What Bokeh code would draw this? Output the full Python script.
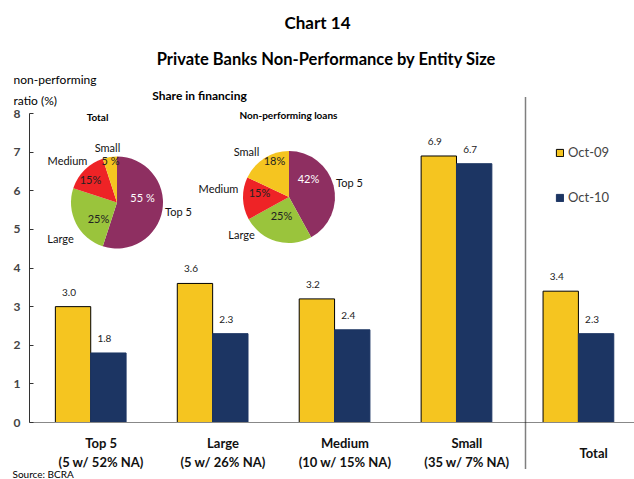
from bokeh.plotting import figure
from bokeh.models import (ColumnDataSource, Range1d, Label, Legend, LegendItem,
                          Arrow, FixedTicker)
from bokeh.core.properties import value
from bokeh.embed import file_html
from bokeh.resources import INLINE
import math

# ---------------- data ----------------
categories = ["Top 5\n(5 w/ 52% NA)", "Large\n(5 w/ 26% NA)", "Medium\n(10 w/ 15% NA)",
              "Small\n(35 w/ 7% NA)", "Total"]
oct09 = [3.0, 3.6, 3.2, 6.9, 3.4]
oct10 = [1.8, 2.3, 2.4, 6.7, 2.3]
series_names = ["Oct-09", "Oct-10"]
y_ticks = [0, 1, 2, 3, 4, 5, 6, 7, 8]

pie_segments = ["Top 5", "Large", "Medium", "Small"]
share_total = [55, 25, 15, 5]
share_npl = [42, 25, 15, 18]
pct_text_total = ["55 %", "25%", "15%", "5 %"]
pct_text_npl = ["42%", "25%", "15%", "18%"]

# ---------------- style / layout ----------------
FONT = "Lato"
YELLOW = "#F5C520"
NAVY = "#1C3563"
PIE_COLORS = ["#8E2F61", "#9AC43C", "#EE2326", "#F5C520"]
PIE_TEXT = ["white", "#222222", "#222222", "#222222"]

# label placement (pixel offsets from pie centre, layout only)
IN_OFF_TOTAL = [(25.5, -5), (-18.5, 16), (-26.5, -23), (-6.5, -42)]
OUT_OFF_TOTAL = [(61.5, 9), (-56.5, 36), (-49.5, -42), (-9.5, -55)]
IN_OFF_NPL = [(19.5, -18.5), (-7.5, 18.5), (-29.5, -4.5), (-14.5, -36.5)]
OUT_OFF_NPL = [(60.5, -14.5), (-47.5, 37.5), (-70.5, -8.5), (-42.5, -45.5)]
LABEL_SHIFT = 0.085        # category labels sit slightly right of the bar pairs

W, H = 634, 479
X0, X1 = -0.74, 4.46                # index range across the full canvas width
Y_PX0, Y_PX8 = 422.0, 113.0         # pixel rows of y=0 and y=8
ppu = (Y_PX0 - Y_PX8) / 8.0
Y0 = -(H - Y_PX0) / ppu
Y1 = Y_PX0 / ppu

p = figure(width=W, height=H, x_range=Range1d(X0, X1), y_range=Range1d(Y0, Y1),
           output_backend="svg", toolbar_location=None, min_border=0,
           min_border_left=0, min_border_right=0, min_border_top=0, min_border_bottom=0)
p.outline_line_color = None
p.grid.visible = False
p.background_fill_color = "white"
p.border_fill_color = "white"

def X(px):
    return X0 + px / W * (X1 - X0)

def Y(py):
    return (Y_PX0 - py) / ppu

idx = list(range(len(categories)))
bw = 0.29
src = ColumnDataSource(dict(x09=[i - bw / 2 for i in idx], x10=[i + bw / 2 for i in idx],
                            oct09=oct09, oct10=oct10,
                            l09=[f"{v:.1f}" for v in oct09], l10=[f"{v:.1f}" for v in oct10]))
r1 = p.vbar(x="x09", top="oct09", width=bw, source=src,
            fill_color=YELLOW, line_color="black", line_width=1)
r2 = p.vbar(x="x10", top="oct10", width=bw, source=src,
            fill_color=NAVY, line_color=NAVY, line_width=1)

for xc, yc, tc in (("x09", "oct09", "l09"), ("x10", "oct10", "l10")):
    p.text(x=xc, y=yc, text=tc, source=src, text_font=value(FONT), text_font_size="10px",
           text_align="center", text_baseline="bottom", y_offset=-11, x_offset=-4,
           text_color="#222222")

# ---------------- axes (fixed inside the frame) ----------------
ya = p.yaxis[0]
ya.fixed_location = X(29)
ya.ticker = FixedTicker(ticks=y_ticks)
ya.bounds = (0, 8)
ya.major_tick_in = 4
ya.major_tick_out = 0
ya.minor_tick_line_color = None
ya.major_label_text_font = FONT
ya.major_label_text_font_style = "bold"
ya.major_label_text_font_size = "12px"
ya.major_label_standoff = 9
ya.axis_line_color = "#333333"
ya.major_tick_line_color = "#333333"

xa = p.xaxis[0]
xa.fixed_location = 0
tick_pos = [i + LABEL_SHIFT for i in idx]
xa.ticker = FixedTicker(ticks=tick_pos)
# the single-line "Total" label is centred on both lines, drawn separately below
xa.major_label_overrides = {t: (c if "\n" in c else "") for t, c in zip(tick_pos, categories)}
xa.bounds = (X(29), X1)
xa.major_tick_in = 0
xa.major_tick_out = 0
xa.minor_tick_line_color = None
xa.axis_line_color = "#888888"
xa.major_label_text_font = FONT
xa.major_label_text_font_style = "bold"
xa.major_label_text_font_size = "13px"
xa.major_label_standoff = 12
xa.major_label_text_color = "#111111"

for t, c in zip(tick_pos, categories):
    if "\n" not in c:
        p.add_layout(Label(x=t + 0.04, y=Y(452), text=c, text_font=FONT, text_font_size="13px",
                           text_font_style="bold", text_align="center", text_baseline="middle",
                           text_color="#111111"))

# ---------------- pies ----------------
R = 46

def pie(cx_px, cy_px, shares, pct_text, in_off, out_off):
    tot = sum(shares)
    starts, ends = [], []
    c = 0
    for s in shares:
        starts.append(math.pi / 2 - 2 * math.pi * c / tot)
        c += s
        ends.append(math.pi / 2 - 2 * math.pi * c / tot)
    cx, cy = X(cx_px), Y(cy_px)
    n = len(shares)
    ds = ColumnDataSource(dict(x=[cx] * n, y=[cy] * n, start=starts, end=ends, color=PIE_COLORS))
    p.wedge(x="x", y="y", radius=R, radius_units="screen", start_angle="start",
            end_angle="end", direction="clock", fill_color="color", line_color=None, source=ds)
    ins = ColumnDataSource(dict(x=[cx] * n, y=[cy] * n, t=pct_text,
                                dx=[o[0] for o in in_off], dy=[o[1] for o in in_off],
                                col=PIE_TEXT))
    p.text(x="x", y="y", text="t", x_offset="dx", y_offset="dy", text_color="col", source=ins,
           text_font=value(FONT), text_font_size="11px", text_align="center",
           text_baseline="middle")
    outs = ColumnDataSource(dict(x=[cx] * n, y=[cy] * n, t=pie_segments,
                                 dx=[o[0] for o in out_off], dy=[o[1] for o in out_off]))
    p.text(x="x", y="y", text="t", x_offset="dx", y_offset="dy", source=outs,
           text_font=value(FONT), text_font_size="11px", text_align="center",
           text_baseline="middle", text_color="#111111")

pie(116.5, 202, share_total, pct_text_total, IN_OFF_TOTAL, OUT_OFF_TOTAL)
pie(288.5, 196.5, share_npl, pct_text_npl, IN_OFF_NPL, OUT_OFF_NPL)

# ---------------- annotations ----------------
def lab(txt, px, py, size="12px", style="normal", align="left"):
    p.add_layout(Label(x=X(px), y=Y(py), text=txt, text_font=FONT, text_font_size=size,
                       text_font_style=style, text_align=align, text_baseline="middle",
                       text_color="black"))

lab("Chart 14", 317, 22, "17px", "bold", "center")
lab("Private Banks Non-Performance by Entity Size", 326, 58, "16.5px", "bold", "center")
lab("non-performing", 13, 79, "12px")
lab("ratio (%)", 13, 100, "12px")
lab("Share in financing", 199, 95, "12px", "bold", "center")
lab("Total", 97, 116, "10px", "bold", "center")
lab("Non-performing loans", 288, 114, "10px", "bold", "center")
lab("Source: BCRA", 12, 473, "10px")

p.add_layout(Arrow(end=None, x_start=X(525), y_start=Y(97), x_end=X(525), y_end=Y(468),
                   line_color="black", line_width=1.5, line_dash="1 1"))

legend = Legend(items=[LegendItem(label=series_names[0], renderers=[r1]),
                       LegendItem(label=series_names[1], renderers=[r2])],
                location=(555, 274), orientation="vertical", glyph_width=9, glyph_height=9,
                label_height=11, spacing=29, padding=0, margin=0, label_standoff=4,
                label_text_font=FONT, label_text_font_size="13px", border_line_color=None,
                background_fill_alpha=0)
p.add_layout(legend)

open("out.html", "w").write(file_html(p, INLINE))
